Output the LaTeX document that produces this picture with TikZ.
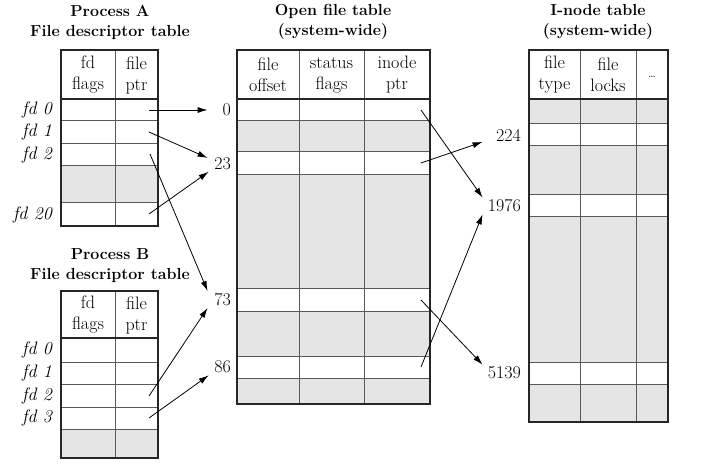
\documentclass[tikz,border=0pt]{standalone}
\usepackage{fontspec}
\usepackage{tikz}
\usetikzlibrary{arrows.meta}
\tikzstyle{tabtitle} = [align=center, inner sep=0pt, font=\fontsize{16}{20}\selectfont\bfseries]
\tikzstyle{colhead} = [align=center, inner sep=0pt, font=\fontsize{18}{21}\selectfont]
\tikzstyle{fdlabel} = [anchor=east, inner sep=2pt, font=\fontsize{18}{20}\selectfont\itshape]
\tikzstyle{idxlabel} = [anchor=east, inner sep=2pt, align=right, font=\fontsize{18}{20}\selectfont]
\tikzstyle{greyrow} = [fill=black!10]
\tikzstyle{rowrule} = [draw=black!65, line width=1pt]
\tikzstyle{tabframe} = [draw=black!85, line width=2pt]
\tikzstyle{line} = [draw, -{Latex[length=10pt,width=6pt]}, line width=0.8pt]

\begin{document}
\begin{tikzpicture}[x=1pt, y=-1pt]
				\useasboundingbox (0,0) rectangle (702,468);

				\node [tabtitle] (titleA) at (110,22) {Process A\\File descriptor table};
				\node [tabtitle] (titleB) at (110,266) {Process B\\File descriptor table};
				\node [tabtitle] (titleopen) at (333,22) {Open file table\\(system-wide)};
				\node [tabtitle] (titleinode) at (598,22) {I-node table\\(system-wide)};

				\fill [greyrow] (61,166) rectangle (158,203);
				\path [rowrule] (115,50) -- (115,226) (61,121) -- (158,121) (61,144) -- (158,144) (61,166) -- (158,166) (61,203) -- (158,203);
				\path [tabframe] (61,50) rectangle (158,226) (61,99) -- (158,99);
				\node [colhead] (Aflags) at (88,75) {fd\\flags};
				\node [colhead] (Aptr) at (136.5,75) {file\\ptr};
				\node [fdlabel] (Afd0) at (54,110) {fd 0};
				\node [fdlabel] (Afd1) at (54,132.5) {fd 1};
				\node [fdlabel] (Afd2) at (54,155) {fd 2};
				\node [fdlabel] (Afd20) at (54,214.5) {fd 20};
				\coordinate (Aptr0) at (149,110);
				\coordinate (Aptr1) at (149,132);
				\coordinate (Aptr2) at (150,154);
				\coordinate (Aptr20) at (149,214);

				\fill [greyrow] (61,429) rectangle (158,458);
				\path [rowrule] (115,291) -- (115,458) (61,362) -- (158,362) (61,384) -- (158,384) (61,407) -- (158,407) (61,429) -- (158,429);
				\path [tabframe] (61,291) rectangle (158,458) (61,338) -- (158,338);
				\node [colhead] (Bflags) at (88,315) {fd\\flags};
				\node [colhead] (Bptr) at (136.5,315) {file\\ptr};
				\node [fdlabel] (Bfd0) at (54,350) {fd 0};
				\node [fdlabel] (Bfd1) at (54,373) {fd 1};
				\node [fdlabel] (Bfd2) at (54,395.5) {fd 2};
				\node [fdlabel] (Bfd3) at (54,418) {fd 3};
				\coordinate (Bptr2) at (149,396);
				\coordinate (Bptr3) at (149,418);

				\fill [greyrow] (237,121) rectangle (430,152) (237,175) rectangle (430,288) (237,311) rectangle (430,356) (237,378) rectangle (430,404);
				\path [rowrule] (299,50) -- (299,404) (364,50) -- (364,404) (237,121) -- (430,121) (237,152) -- (430,152) (237,175) -- (430,175) (237,288) -- (430,288) (237,311) -- (430,311) (237,356) -- (430,356) (237,378) -- (430,378);
				\path [tabframe] (237,50) rectangle (430,404) (237,99) -- (430,99);
				\node [colhead] (offset) at (268,75) {file\\offset};
				\node [colhead] (status) at (331.5,75) {status\\flags};
				\node [colhead] (inodeptr) at (397,75) {inode\\ptr};
				\node [idxlabel, text width=21pt] (n0) at (233,110) {0};
				\node [idxlabel, text width=21pt] (n23) at (233,163.5) {23};
				\node [idxlabel, text width=21pt] (n73) at (233,299.5) {73};
				\node [idxlabel, text width=21pt] (n86) at (233,367) {86};
				\coordinate (open0) at (421,110);
				\coordinate (open23) at (421,163);
				\coordinate (open73) at (421,300);
				\coordinate (open86) at (421,367);

				\fill [greyrow] (529,99) rectangle (668,124) (529,146) rectangle (668,195) (529,217) rectangle (668,362) (529,384) rectangle (668,422);
				\path [rowrule] (580,50) -- (580,422) (636,50) -- (636,422) (529,124) -- (668,124) (529,146) -- (668,146) (529,195) -- (668,195) (529,217) -- (668,217) (529,362) -- (668,362) (529,384) -- (668,384);
				\path [tabframe] (529,50) rectangle (668,422) (529,99) -- (668,99);
				\node [colhead] (type) at (554.5,75) {file\\type};
				\node [colhead] (locks) at (608,75) {file\\locks};
				\node [colhead, font=\fontsize{12}{14}\selectfont] (more) at (652,77) {\ldots};
				\node [idxlabel, text width=36pt] (n224) at (523,135) {224};
				\node [idxlabel, text width=36pt] (n1976) at (523,206) {1976};
				\node [idxlabel, text width=36pt] (n5139) at (523,373) {5139};

				\path [line] (Aptr0) -- (n0.west);
				\path [line] (Aptr1) -- (n23);
				\path [line] (Aptr2) -- (n73.north west);
				\path [line] (Aptr20) -- (n23);
				\path [line] (Bptr2) -- (n73.south west);
				\path [line] (Bptr3) -- (n86);
				\path [line] (open0) -- (n1976.north west);
				\path [line] (open23) -- (n224);
				\path [line] (open73) -- (n5139.north west);
				\path [line] (open86) -- (n1976.south west);
			\end{tikzpicture}
\end{document}
